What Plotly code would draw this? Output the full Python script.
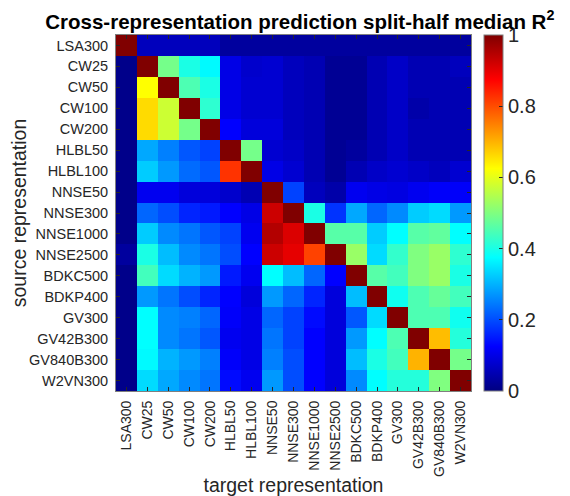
import plotly.graph_objects as go

labels = ["LSA300", "CW25", "CW50", "CW100", "CW200", "HLBL50", "HLBL100",
          "NNSE50", "NNSE300", "NNSE1000", "NNSE2500", "BDKC500", "BDKP400",
          "GV300", "GV42B300", "GV840B300", "W2VN300"]

# rows = source representation, columns = target representation
r_lsa300 = [1.00, 0.06, 0.06, 0.06, 0.06, 0.03, 0.03, 0.03, 0.03, 0.03, 0.03, 0.03, 0.03, 0.03, 0.03, 0.03, 0.03]
r_cw25 = [0.01, 1.00, 0.49, 0.40, 0.37, 0.10, 0.075, 0.08, 0.06, 0.05, 0.02, 0.02, 0.05, 0.07, 0.05, 0.05, 0.06]
r_cw50 = [0.01, 0.625, 1.00, 0.45, 0.40, 0.10, 0.08, 0.08, 0.06, 0.05, 0.02, 0.02, 0.05, 0.07, 0.05, 0.05, 0.05]
r_cw100 = [0.01, 0.66, 0.575, 1.00, 0.42, 0.10, 0.08, 0.08, 0.06, 0.05, 0.02, 0.02, 0.05, 0.07, 0.04, 0.05, 0.05]
r_cw200 = [0.01, 0.66, 0.575, 0.49, 1.00, 0.125, 0.09, 0.09, 0.06, 0.05, 0.02, 0.02, 0.05, 0.07, 0.05, 0.05, 0.05]
r_hlbl50 = [0.01, 0.29, 0.25, 0.21, 0.19, 1.00, 0.49, 0.08, 0.07, 0.05, 0.02, 0.03, 0.05, 0.07, 0.05, 0.05, 0.05]
r_hlbl100 = [0.01, 0.325, 0.275, 0.23, 0.21, 0.825, 1.00, 0.10, 0.08, 0.05, 0.02, 0.05, 0.07, 0.08, 0.07, 0.06, 0.08]
r_nnse50 = [0.01, 0.11, 0.11, 0.09, 0.09, 0.075, 0.05, 1.00, 0.19, 0.06, 0.04, 0.11, 0.10, 0.095, 0.11, 0.12, 0.12]
r_nnse300 = [0.01, 0.225, 0.20, 0.16, 0.15, 0.125, 0.10, 0.925, 1.00, 0.40, 0.175, 0.29, 0.225, 0.26, 0.325, 0.34, 0.275]
r_nnse1000 = [0.01, 0.325, 0.26, 0.24, 0.21, 0.19, 0.11, 0.95, 0.91, 1.00, 0.46, 0.46, 0.325, 0.375, 0.46, 0.47, 0.375]
r_nnse2500 = [0.03, 0.40, 0.31, 0.26, 0.24, 0.20, 0.125, 0.925, 0.90, 0.81, 1.00, 0.525, 0.34, 0.425, 0.50, 0.525, 0.42]
r_bdkc500 = [0.01, 0.44, 0.34, 0.30, 0.275, 0.15, 0.11, 0.375, 0.31, 0.225, 0.125, 1.00, 0.46, 0.44, 0.50, 0.525, 0.40]
r_bdkp400 = [0.01, 0.275, 0.24, 0.20, 0.16, 0.125, 0.09, 0.275, 0.225, 0.16, 0.09, 0.31, 1.00, 0.39, 0.45, 0.475, 0.44]
r_gv300 = [0.01, 0.375, 0.26, 0.25, 0.225, 0.12, 0.10, 0.225, 0.19, 0.135, 0.09, 0.21, 0.34, 1.00, 0.45, 0.45, 0.39]
r_gv42b300 = [0.01, 0.375, 0.26, 0.24, 0.21, 0.11, 0.10, 0.24, 0.19, 0.125, 0.09, 0.275, 0.375, 0.45, 1.00, 0.69, 0.41]
r_gv840b300 = [0.01, 0.37, 0.30, 0.275, 0.25, 0.12, 0.10, 0.25, 0.20, 0.125, 0.09, 0.31, 0.40, 0.44, 0.70, 1.00, 0.49]
r_w2vn300 = [0.01, 0.34, 0.29, 0.26, 0.24, 0.135, 0.11, 0.275, 0.20, 0.125, 0.09, 0.26, 0.375, 0.41, 0.41, 0.50, 1.00]

z = [r_lsa300, r_cw25, r_cw50, r_cw100, r_cw200, r_hlbl50, r_hlbl100, r_nnse50,
     r_nnse300, r_nnse1000, r_nnse2500, r_bdkc500, r_bdkp400, r_gv300,
     r_gv42b300, r_gv840b300, r_w2vn300]

cbar_ticks = [0, 0.2, 0.4, 0.6, 0.8, 1]
cbar_ticktext = ["0", "0.2", "0.4", "0.6", "0.8", "1"]

jet = [[0.0, "rgb(0,0,128)"], [0.125, "rgb(0,0,255)"], [0.375, "rgb(0,255,255)"],
       [0.625, "rgb(255,255,0)"], [0.875, "rgb(255,0,0)"], [1.0, "rgb(128,0,0)"]]

font = "Liberation Sans, Arial, Helvetica, sans-serif"

fig = go.Figure(go.Heatmap(
    z=z, x=labels, y=labels, zmin=0, zmax=1, colorscale=jet,
    colorbar=dict(
        thickness=19, len=1.0, lenmode="fraction", x=1.0366, xanchor="left",
        y=0.5, yanchor="middle", outlinecolor="#7f7f7f", outlinewidth=1,
        tickvals=cbar_ticks, ticktext=cbar_ticktext, ticks="inside", ticklen=4,
        tickcolor="#262626", tickfont=dict(family=font, size=20, color="#262626"),
        xpad=0, ypad=0,
    ),
))

fig.update_layout(
    width=570, height=496,
    margin=dict(l=108, r=107, t=27, b=113),
    paper_bgcolor="white", plot_bgcolor="white",
    title=dict(text="<b>Cross-representation prediction split-half median R<sup>2</sup></b>",
               x=0.512, xanchor="center", y=0.972, yanchor="middle",
               font=dict(family=font, size=20.5, color="black")),
    font=dict(family=font, color="#262626"),
)
fig.update_xaxes(
    automargin=False,
    tickangle=-90, tickfont=dict(size=14, color="#262626"), ticks="inside",
    ticklen=4, tickcolor="#262626", showline=True, linecolor="#7f7f7f",
    linewidth=1, mirror="ticks", showgrid=False, ticklabelstandoff=3,
    title=dict(text="target representation", font=dict(size=19.5, color="#262626"), standoff=2),
)
fig.update_yaxes(
    automargin=False,
    autorange="reversed", tickfont=dict(size=14.5, color="#262626"), ticks="inside",
    ticklen=4, tickcolor="#262626", showline=True, linecolor="#7f7f7f",
    linewidth=1, mirror="ticks", showgrid=False, ticklabelstandoff=4,
    title=dict(text="source representation", font=dict(size=19.5, color="#262626"), standoff=2),
)

fig.write_html("out.html")
